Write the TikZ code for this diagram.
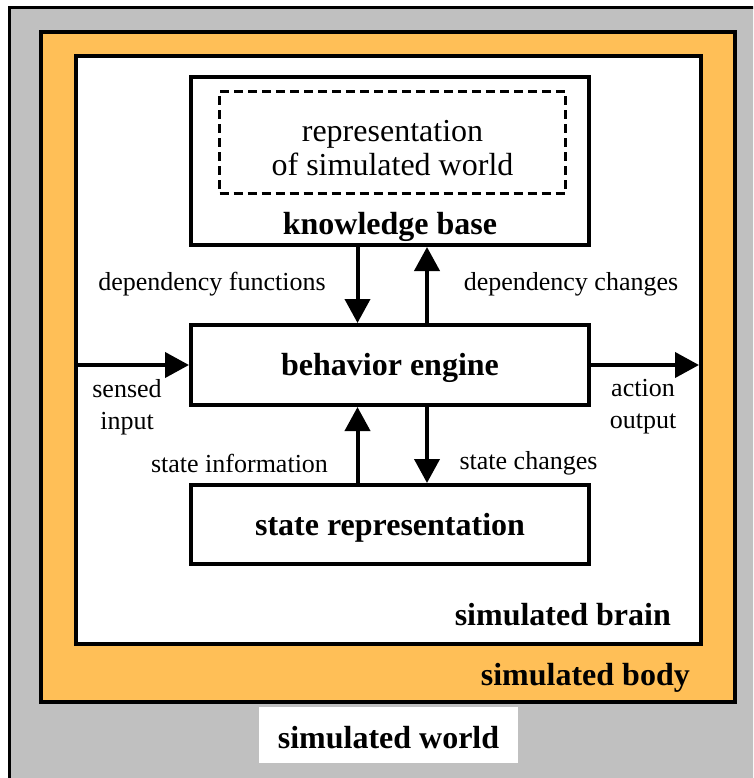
\documentclass[tikz,border=0pt]{standalone}
\usepackage{fontspec}
\setmainfont{Liberation Serif}
\usetikzlibrary{arrows.meta}
\definecolor{worldgray}{HTML}{C0C0C0}
\definecolor{bodyorange}{HTML}{FFBF57}
\newcommand{\bigtext}{\fontsize{32}{34}\selectfont}
\newcommand{\smalltext}{\fontsize{26}{32}\selectfont}
\tikzset{
  box/.style={draw=black, line width=4pt, fill=white, inner sep=0pt, outer sep=2pt,
    minimum width=398pt},
  lbl/.style={inner sep=0pt, font=\smalltext, align=center, yshift=-3pt},
  title/.style={inner sep=0pt, font=\bigtext\bfseries, yshift=-3pt},
  arr/.style={line width=4pt, -{Triangle[length=24pt,width=25pt]}},
}
\begin{document}
\begin{tikzpicture}[x=1pt,y=-1pt]
  \clip (0,0) rectangle (753,778);
  \fill[white] (0,0) rectangle (753,778);
  % simulated world (runs off the right and bottom edges)
  \draw[line width=3pt, fill=worldgray] (9.5,7.5) rectangle (790,810);
  % simulated body
  \node[draw, line width=4pt, fill=bodyorange, inner sep=0pt, outer sep=0pt,
        minimum width=694pt, minimum height=670pt] (body) at (388,367) {};
  % simulated brain
  \node[draw, line width=4pt, fill=white, inner sep=0pt, outer sep=0pt,
        minimum width=625pt, minimum height=588pt] (brain) at (388.5,350) {};

  % knowledge base with its inner representation
  \node[box, minimum height=168pt] (kb) at (390,161) {};
  \node[draw, line width=3pt, dash pattern=on 9pt off 5pt, inner sep=0pt,
        minimum width=345.5pt, minimum height=102pt] (rep) at (392.25,142.5) {};
  \node[inner sep=0pt, font=\bigtext, align=center] (rept) at (392.5,148)
        {representation\\of simulated world};
  \node[title] (kbt) at (390,224) {knowledge base};

  % behavior engine and state representation
  \node[box, minimum height=80pt] (be) at (390,365) {};
  \node[title] (bet) at (390,365) {behavior engine};
  \node[box, minimum height=79pt] (sr) at (390,524.5) {};
  \node[title] (srt) at (390,524.5) {state representation};

  % arrow columns
  \coordinate (cl) at (357.5,0);
  \coordinate (cr) at (427,0);

  \draw[arr] (kb.south -| cl) -- (be.north -| cl);
  \draw[arr] (be.north -| cr) -- (kb.south -| cr);
  \draw[arr] (sr.north -| cl) -- (be.south -| cl);
  \draw[arr] (be.south -| cr) -- (sr.north -| cr);

  \coordinate (inl) at ([xshift=-2pt]brain.west);
  \coordinate (outr) at ([xshift=-2pt]brain.east);
  \draw[arr] (inl |- be.west) -- (be.west);
  \draw[arr] (be.east) -- (outr |- be.east);

  % connector labels
  \node[lbl] (dfl) at (212,281) {dependency functions};
  \node[lbl] (dcl) at (571,281) {dependency changes};
  \node[lbl] (sil) at (239.5,460) {state information};
  \node[lbl] (scl) at (528.5,460) {state changes};
  \node[lbl] (sin) at (127,404) {sensed\\input};
  \node[lbl] (aout) at (643,404) {action\\output};

  % layer titles
  \node[title, anchor=east] (braint) at (671,612) {simulated brain};
  \node[title, anchor=east] (bodyt) at (690,675) {simulated body};
  \node[fill=white, inner sep=0pt, minimum width=259pt, minimum height=56pt]
        (worldbg) at (388.5,735) {};
  \node[title] (worldt) at (388.5,735) {simulated world};
\end{tikzpicture}
\end{document}
